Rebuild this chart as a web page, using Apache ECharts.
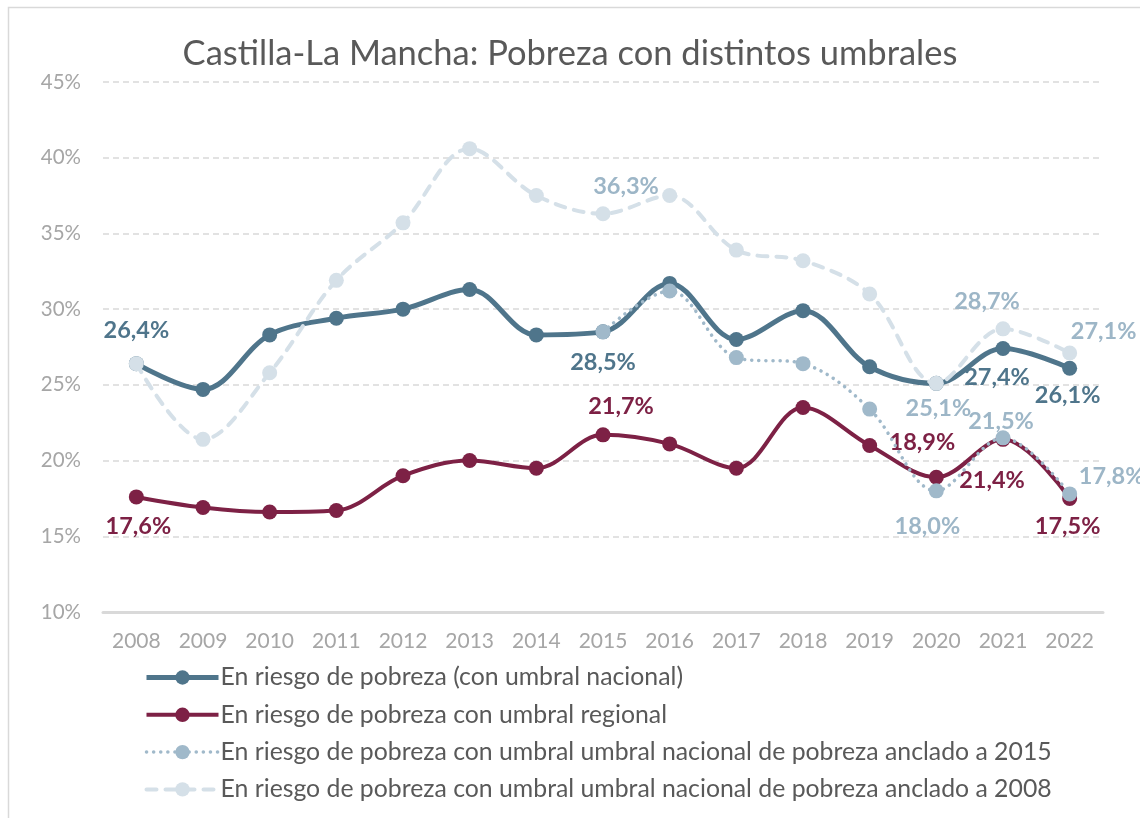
<!DOCTYPE html>
<html>
<head>
<meta charset="utf-8">
<script src="https://cdn.jsdelivr.net/npm/echarts@6/dist/echarts.min.js"></script>
<style>html,body{margin:0;padding:0;background:#fff}#c{width:1140px;height:818px}</style>
</head>
<body>
<div id="c"></div>
<script>
const years = ['2008','2009','2010','2011','2012','2013','2014','2015','2016','2017','2018','2019','2020','2021','2022'];
const yTicks = [10, 15, 20, 25, 30, 35, 40, 45];
const nacional = [26.4, 24.7, 28.3, 29.4, 30.0, 31.3, 28.3, 28.5, 31.7, 28.0, 29.9, 26.2, 25.1, 27.4, 26.1];
const regional = [17.6, 16.9, 16.6, 16.7, 19.0, 20.0, 19.5, 21.7, 21.1, 19.5, 23.5, 21.0, 18.9, 21.4, 17.5];
const anclado2015 = [null, null, null, null, null, null, null, 28.5, 31.2, 26.8, 26.4, 23.4, 18.0, 21.5, 17.8];
const anclado2008 = [26.4, 21.4, 25.8, 31.9, 35.7, 40.6, 37.5, 36.3, 37.5, 33.9, 33.2, 31.0, 25.1, 28.7, 27.1];
const names = [
  'En riesgo de pobreza (con umbral nacional)',
  'En riesgo de pobreza con umbral regional',
  'En riesgo de pobreza con umbral umbral nacional de pobreza anclado a 2015',
  'En riesgo de pobreza con umbral umbral nacional de pobreza anclado a 2008'
];

const C1 = '#4F758B', C2 = '#7D2145', C3 = '#A0B9CA', C4 = '#D5E0E8', CL = '#9DB6C7';
// label offsets (index -> [dx, dy]) relative to the point centre
const lab1 = {0: [0, -33], 7: [0, 31], 13: [-6, 29], 14: [-2, 27]};
const lab2 = {0: [2, 30], 7: [18, -28], 12: [-14, -35], 13: [-11, 41], 14: [-2, 28]};
const lab3 = {12: [-9, 36], 13: [-2, -16], 14: [42, -17]};
const lab4 = {7: [23, -27], 12: [2, 25], 13: [-16, -27], 14: [34, -22]};

const fmt = v => v.toFixed(1).replace('.', ',') + '%';
function build(vals, labs, color) {
  return vals.map((v, i) => {
    if (v === null) return null;
    const o = {value: v};
    if (labs[i]) {
      o.label = {show: true, position: 'inside', offset: labs[i], formatter: fmt(v),
        color: color, fontFamily: 'Lato', fontWeight: 'bold', fontSize: 23.5};
    }
    return o;
  });
}

const lineStyles = [
  {color: C1, width: 5},
  {color: C2, width: 4},
  {color: C3, width: 3.5, type: [0.1, 7], cap: 'round'},
  {color: C4, width: 4, type: [10, 9], cap: 'round'}
];
const colors = [C1, C2, C3, C4];
const dataSets = [nacional, regional, anclado2015, anclado2008];
const labSets = [lab1, lab2, lab3, lab4];
const labColors = [C1, C2, CL, CL];

const chart = echarts.init(document.getElementById('c'), null, {renderer: 'canvas'});
chart.setOption({
  animation: false,
  backgroundColor: '#fff',
  graphic: [{type: 'rect', shape: {x: 8.5, y: 7.5, width: 1300, height: 1000},
    style: {fill: 'none', stroke: '#d9d9d9', lineWidth: 1.5}, silent: true, z: -10}],
  title: {
    text: 'Castilla-La Mancha: Pobreza con distintos umbrales',
    left: 'center', top: 31,
    textStyle: {fontFamily: 'Lato', fontWeight: 'normal', fontSize: 34.5, color: '#595959'}
  },
  grid: {left: 103, right: 37, top: 82, bottom: 206, containLabel: false},
  legend: {
    orient: 'vertical', left: 139, top: 660,
    itemWidth: 72, itemHeight: 18, itemGap: 12.3,
    textStyle: {fontFamily: 'Lato', fontSize: 24.8, color: '#595959', padding: [0, 0, 0, -3]},
    data: names.map((n, i) => ({name: n, lineStyle: lineStyles[i], itemStyle: {color: colors[i]}}))
  },
  xAxis: {
    type: 'category', data: years, boundaryGap: true,
    axisLine: {show: true, lineStyle: {color: '#d9d9d9', width: 3}},
    axisTick: {show: false},
    axisLabel: {color: '#a6a6a6', fontFamily: 'Lato', fontSize: 21, margin: 19}
  },
  yAxis: {
    type: 'value', min: yTicks[0], max: yTicks[yTicks.length - 1], interval: 5,
    axisLine: {show: false}, axisTick: {show: false},
    axisLabel: {color: '#a6a6a6', fontFamily: 'Lato', fontSize: 20.5, margin: 22, formatter: v => v + '%'},
    splitLine: {show: true, lineStyle: {color: '#d9d9d9', type: [6, 4], width: 1.5}}
  },
  series: dataSets.map((d, i) => ({
    name: names[i], type: 'line', data: build(d, labSets[i], labColors[i]), smooth: 0.35,
    symbol: 'circle', symbolSize: 15, lineStyle: lineStyles[i], itemStyle: {color: colors[i]}, z: 2 + i
  }))
});
</script>
</body>
</html>
